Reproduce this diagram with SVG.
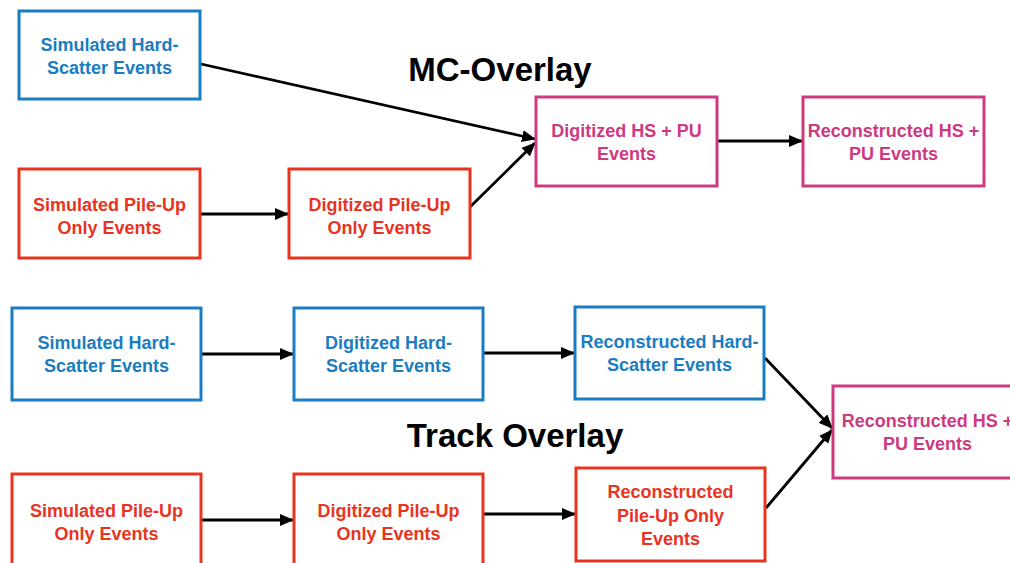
<svg xmlns="http://www.w3.org/2000/svg" width="1010" height="563" viewBox="0 0 1010 563">
  <defs>
    <marker id="arrow" viewBox="0 0 14 12" refX="13" refY="6" markerWidth="14" markerHeight="12" markerUnits="userSpaceOnUse" orient="auto">
      <path d="M0,0 L14,6 L0,12 z" fill="#000"/>
    </marker>
  </defs>
  <style>
    .box { fill: #fff; stroke-width: 3; }
    .hs { stroke: #1a7cc1; }
    .pu { stroke: #e8341f; }
    .mix { stroke: #cc3a7f; }
    .lbl { font-family: "Liberation Sans", Arial, sans-serif; font-weight: bold; font-size: 18px; text-anchor: middle; }
    .hs-t { fill: #1a7cc1; }
    .pu-t { fill: #e8341f; }
    .mix-t { fill: #cc3a7f; }
    .title { font-family: "Liberation Sans", Arial, sans-serif; font-weight: bold; font-size: 33px; text-anchor: middle; fill: #000; }
    .edge { stroke: #000; stroke-width: 2.8; fill: none; marker-end: url(#arrow); }
  </style>
  <rect width="1010" height="563" fill="#fff"/>

  <text class="title" x="500" y="81">MC-Overlay</text>
  <text class="title" x="515" y="447">Track Overlay</text>

  <g id="connectors">
    <line class="edge" x1="201" y1="64" x2="535" y2="139"/>
    <line class="edge" x1="470" y1="207" x2="535" y2="143"/>
    <line class="edge" x1="201" y1="214" x2="288" y2="214"/>
    <line class="edge" x1="718" y1="141" x2="802" y2="141"/>
    <line class="edge" x1="202" y1="354" x2="293" y2="354"/>
    <line class="edge" x1="484" y1="353" x2="574" y2="353"/>
    <line class="edge" x1="765" y1="358" x2="832" y2="428"/>
    <line class="edge" x1="766" y1="508" x2="832" y2="430"/>
    <line class="edge" x1="202" y1="520" x2="293" y2="520"/>
    <line class="edge" x1="484" y1="514" x2="575" y2="514"/>
  </g>

  <!-- MC-Overlay chain -->
  <g id="mc-sim-hs">
    <rect class="box hs" x="19" y="11" width="181" height="88"/>
    <text class="lbl hs-t" x="109.5" y="51">Simulated Hard-</text>
    <text class="lbl hs-t" x="109.5" y="74">Scatter Events</text>
  </g>
  <g id="mc-digi-hspu">
    <rect class="box mix" x="536" y="97" width="181" height="89"/>
    <text class="lbl mix-t" x="626.5" y="137">Digitized HS + PU</text>
    <text class="lbl mix-t" x="626.5" y="160">Events</text>
  </g>
  <g id="mc-reco-hspu">
    <rect class="box mix" x="803" y="97" width="181" height="89"/>
    <text class="lbl mix-t" x="893.5" y="137">Reconstructed HS +</text>
    <text class="lbl mix-t" x="893.5" y="160">PU Events</text>
  </g>
  <g id="mc-sim-pu">
    <rect class="box pu" x="19" y="169" width="181" height="89"/>
    <text class="lbl pu-t" x="109.5" y="211">Simulated Pile-Up</text>
    <text class="lbl pu-t" x="109.5" y="234">Only Events</text>
  </g>
  <g id="mc-digi-pu">
    <rect class="box pu" x="289" y="169" width="181" height="89"/>
    <text class="lbl pu-t" x="379.5" y="211">Digitized Pile-Up</text>
    <text class="lbl pu-t" x="379.5" y="234">Only Events</text>
  </g>

  <!-- Track Overlay chain -->
  <g id="tr-sim-hs">
    <rect class="box hs" x="12" y="308" width="189" height="92"/>
    <text class="lbl hs-t" x="106.5" y="349">Simulated Hard-</text>
    <text class="lbl hs-t" x="106.5" y="372">Scatter Events</text>
  </g>
  <g id="tr-digi-hs">
    <rect class="box hs" x="294" y="308" width="189" height="92"/>
    <text class="lbl hs-t" x="388.5" y="349">Digitized Hard-</text>
    <text class="lbl hs-t" x="388.5" y="372">Scatter Events</text>
  </g>
  <g id="tr-reco-hs">
    <rect class="box hs" x="575" y="307" width="189" height="92"/>
    <text class="lbl hs-t" x="669.5" y="348">Reconstructed Hard-</text>
    <text class="lbl hs-t" x="669.5" y="371">Scatter Events</text>
  </g>
  <g id="tr-reco-hspu">
    <rect class="box mix" x="833" y="386" width="189" height="92"/>
    <text class="lbl mix-t" x="927.5" y="427">Reconstructed HS +</text>
    <text class="lbl mix-t" x="927.5" y="450">PU Events</text>
  </g>
  <g id="tr-sim-pu">
    <rect class="box pu" x="12" y="474" width="189" height="92"/>
    <text class="lbl pu-t" x="106.5" y="517">Simulated Pile-Up</text>
    <text class="lbl pu-t" x="106.5" y="540">Only Events</text>
  </g>
  <g id="tr-digi-pu">
    <rect class="box pu" x="294" y="474" width="189" height="92"/>
    <text class="lbl pu-t" x="388.5" y="517">Digitized Pile-Up</text>
    <text class="lbl pu-t" x="388.5" y="540">Only Events</text>
  </g>
  <g id="tr-reco-pu">
    <rect class="box pu" x="576" y="468" width="189" height="93"/>
    <text class="lbl pu-t" x="670.5" y="498">Reconstructed</text>
    <text class="lbl pu-t" x="670.5" y="522">Pile-Up Only</text>
    <text class="lbl pu-t" x="670.5" y="545">Events</text>
  </g>
</svg>
